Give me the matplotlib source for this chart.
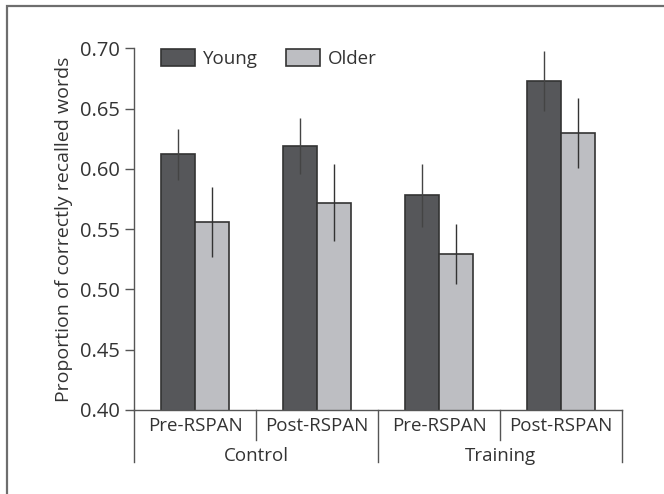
import numpy as np
import matplotlib.pyplot as plt
from matplotlib.patches import Rectangle

plt.rcParams['font.family'] = ['Open Sans', 'DejaVu Sans']

conditions = ['Pre-RSPAN', 'Post-RSPAN', 'Pre-RSPAN', 'Post-RSPAN']
groups = ['Control', 'Training']
young = [0.612, 0.619, 0.578, 0.673]
young_err = [0.021, 0.023, 0.026, 0.025]
older = [0.556, 0.572, 0.529, 0.630]
older_err = [0.029, 0.032, 0.025, 0.029]

dark = '#56575a'
light = '#bdbec2'
edge = '#333333'
txt = '#333333'
fs = 13.5

fig = plt.figure(figsize=(6.64, 4.94), dpi=100)
ax = fig.add_axes([134 / 664, 84.2 / 494, 488 / 664, 361.5 / 494])

x = np.arange(len(conditions))
w = 0.279
ax.bar(x - w / 2, young, w, color=dark, edgecolor=edge, linewidth=1.2, label='Young', zorder=2)
ax.bar(x + w / 2, older, w, color=light, edgecolor=edge, linewidth=1.2, label='Older', zorder=2)
ax.errorbar(x - w / 2, young, yerr=young_err, fmt='none', ecolor='#444444', elinewidth=1, capsize=0, zorder=3)
ax.errorbar(x + w / 2, older, yerr=older_err, fmt='none', ecolor='#333333', elinewidth=1, capsize=0, zorder=3)

ax.set_xlim(-0.5, 3.5)
ax.set_ylim(0.40, 0.70)
ticks = np.arange(0.40, 0.701, 0.05)
ax.set_yticks(ticks)
ax.set_yticklabels(['%.2f' % v for v in ticks])
ax.tick_params(axis='y', length=6.5, width=1, color='#555555', pad=4, labelsize=14.5, labelcolor=txt)
ax.set_xticks([])
ax.set_ylabel('Proportion of correctly recalled words', fontsize=14, color=txt, labelpad=5)

for s in ['top', 'right']:
    ax.spines[s].set_visible(False)
for s in ['left', 'bottom']:
    ax.spines[s].set_color('#555555')
    ax.spines[s].set_linewidth(1)

# two-level category axis below the bars
trans = ax.get_xaxis_transform()
px = 1 / 361.5
for xi in [-0.5, 1.5, 3.5]:
    ax.plot([xi, xi], [0, -52 * px], transform=trans, color='#555555', lw=1, clip_on=False)
for xi in [0.5, 2.5]:
    ax.plot([xi, xi], [0, -30 * px], transform=trans, color='#555555', lw=1, clip_on=False)
for xi, lab in zip(x, conditions):
    ax.text(xi, -16 * px, lab, transform=trans, ha='center', va='center', fontsize=fs, color=txt)
for gi, lab in enumerate(groups):
    ax.text(gi * 2 + 0.5, -46 * px, lab, transform=trans, ha='center', va='center', fontsize=fs, color=txt)

ax.legend(loc='upper left', bbox_to_anchor=(0.0553, 0.997), ncol=2, frameon=False,
          fontsize=fs, handlelength=1.8, handleheight=0.95, columnspacing=1.5,
          handletextpad=0.45, borderpad=0, borderaxespad=0, labelcolor=txt)

# outer frame
fig.patches.append(Rectangle((7 / 664, -0.1), 1.2, 1.1 - 6 / 494, transform=fig.transFigure,
                             fill=False, edgecolor='#6e6e6e', linewidth=1.6))

fig.savefig('out.png', dpi=100)
